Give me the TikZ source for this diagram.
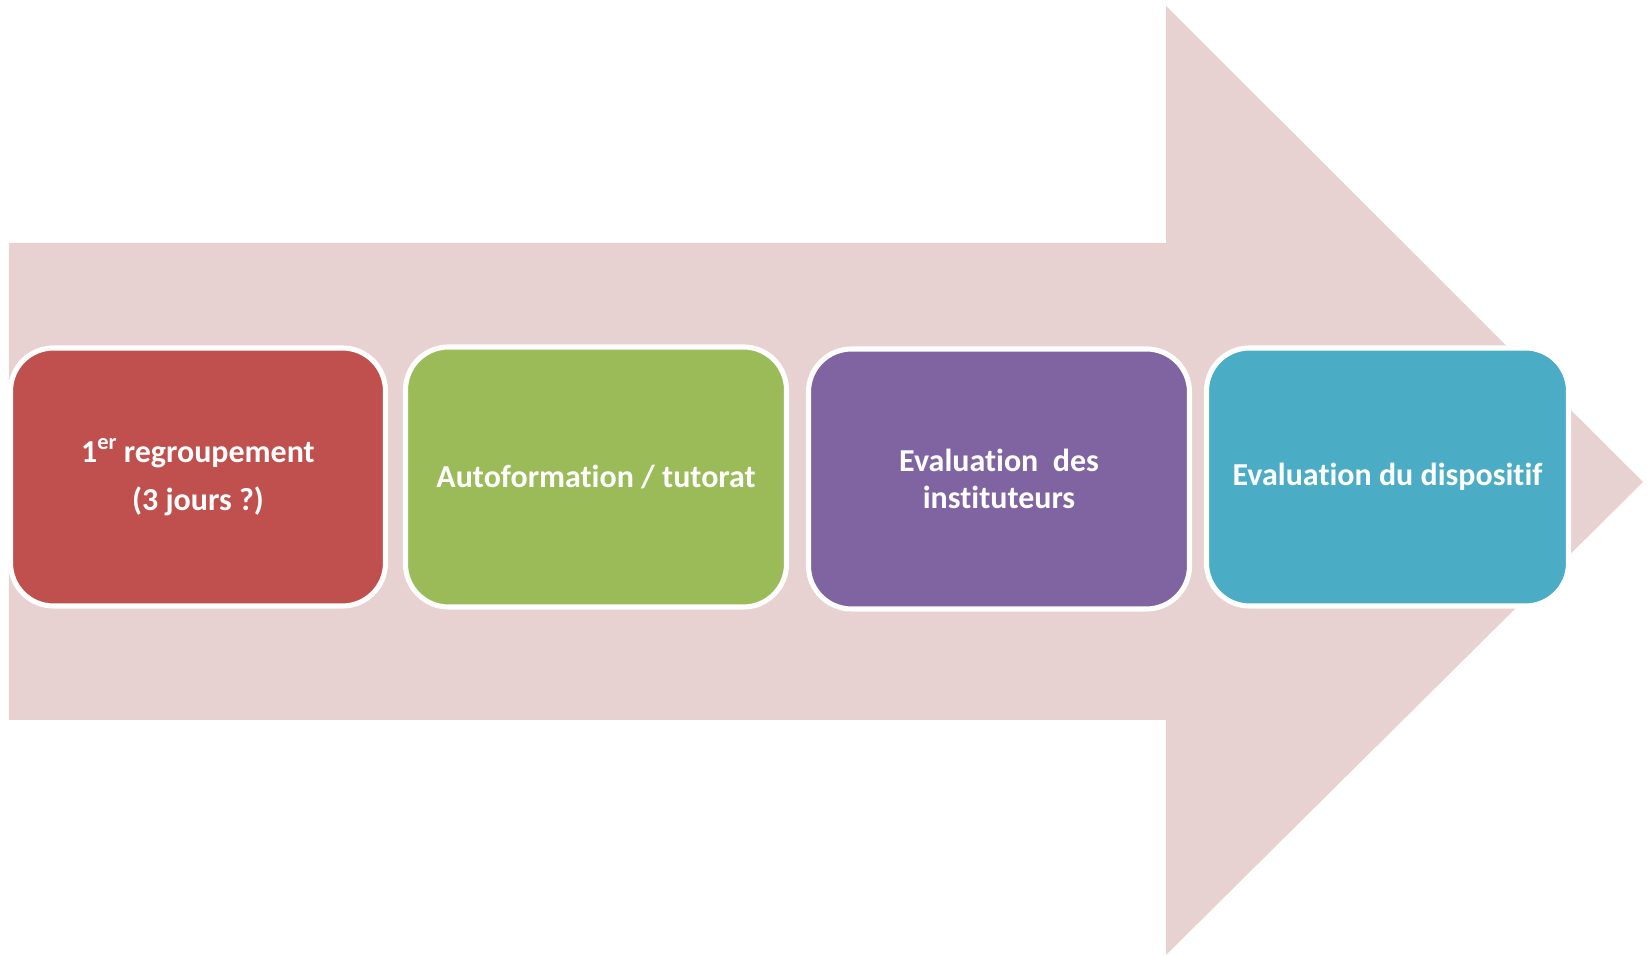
\documentclass[tikz,border=0pt]{standalone}
\usepackage{fontspec}
\setmainfont[Ligatures=NoCommon]{Carlito}
\usepackage{xcolor}
\usepackage{tikz}
\definecolor{arrowpink}{HTML}{E7D1D1}
\definecolor{stepred}{HTML}{C0504D}
\definecolor{stepgreen}{HTML}{9BBB59}
\definecolor{steppurple}{HTML}{8064A2}
\definecolor{stepblue}{HTML}{4BACC6}

\begin{document}
\begin{tikzpicture}[
    stepbox/.style={shape=rectangle, rounded corners=0.43cm, draw=white, line width=1.45pt,
      text=white, font=\bfseries\fontsize{9.1}{10.3}\selectfont, align=center,
      inner sep=0pt, minimum height=2.58cm}]
    \useasboundingbox (0,0) rectangle (16.5,9.56);

    \fill[arrowpink] (0.09,7.13) -- (11.66,7.13) -- (11.66,9.50) -- (16.43,4.74)
      -- (11.66,0.01) -- (11.66,2.36) -- (0.09,2.36) -- cycle;

    \node[stepbox, fill=stepred, minimum width=3.75cm, font=\bfseries\fontsize{9.1}{13.7}\selectfont]
      (regroup) at (1.98,4.79) {1\textsuperscript{er}\kern-0.5pt{} regroupement\\(3 jours ?)};
    \node[stepbox, fill=stepgreen, minimum width=3.81cm, minimum height=2.6cm] (autoform) at (5.96,4.79) {Autoformation / tutorat};
    \node[stepbox, fill=steppurple, minimum width=3.81cm, minimum height=2.6cm] (evalinst) at (9.99,4.77) {Evaluation \ des\\instituteurs};
    \node[stepbox, fill=stepblue, minimum width=3.62cm] (evaldisp) at (13.875,4.79) {Evaluation du dispositif};
  \end{tikzpicture}
\end{document}
